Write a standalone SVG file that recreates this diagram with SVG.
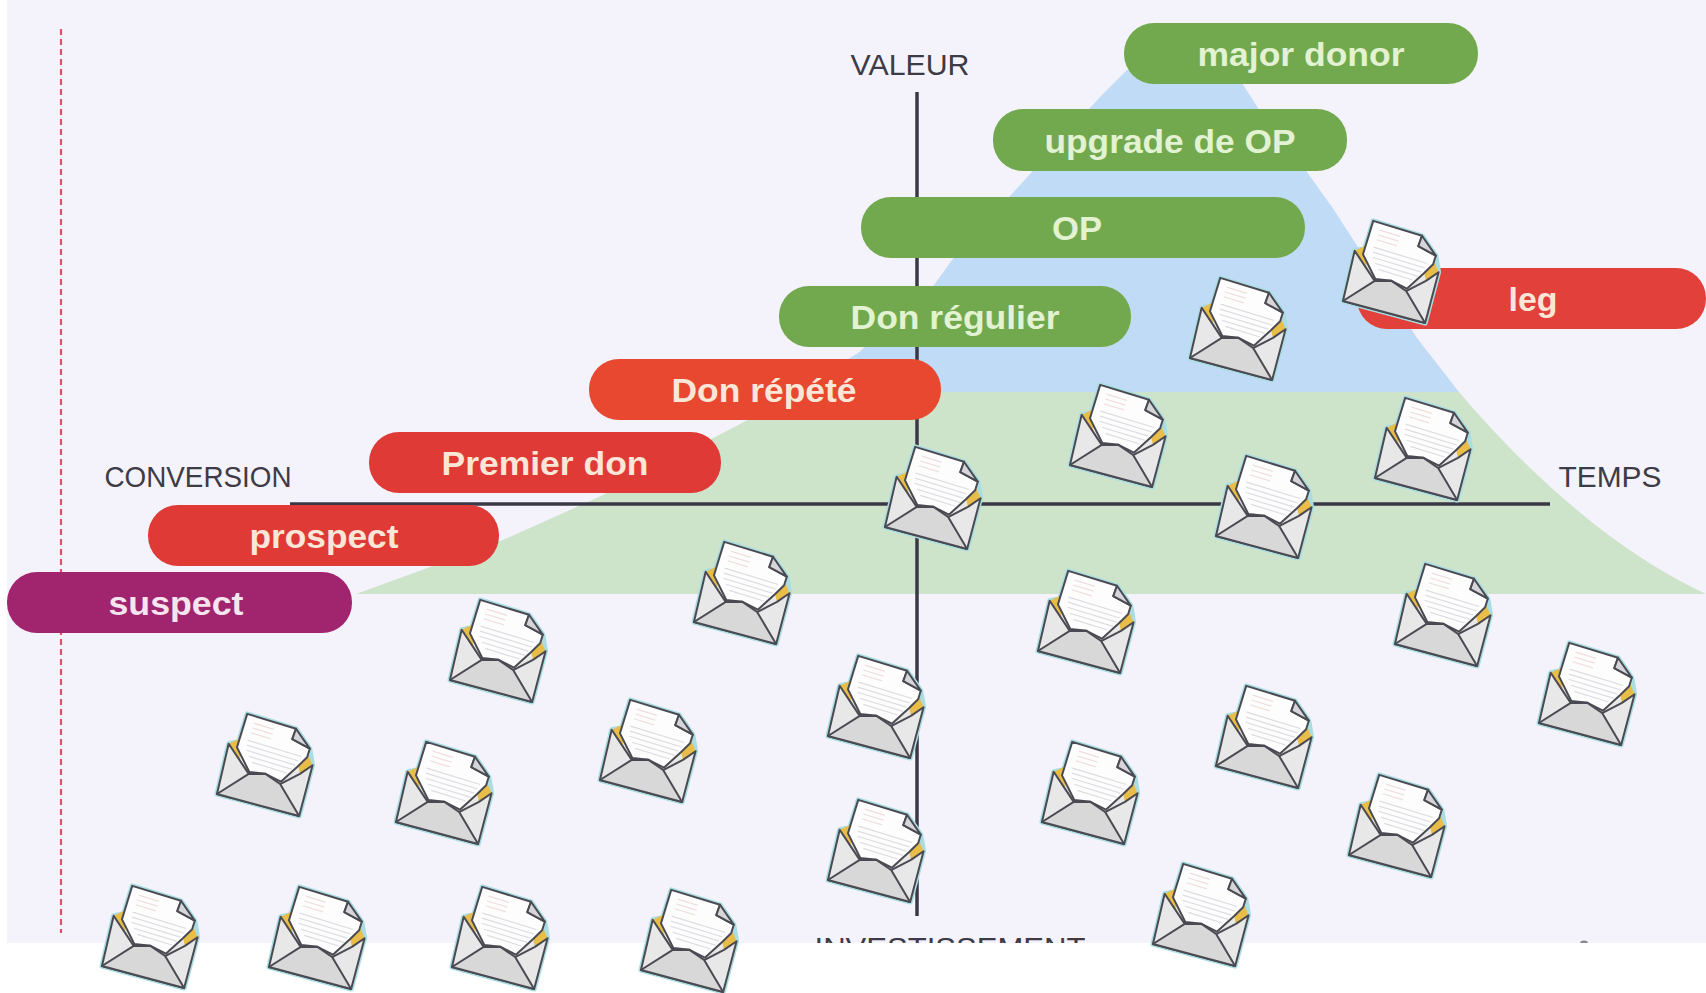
<svg xmlns="http://www.w3.org/2000/svg" width="1706" height="993" viewBox="0 0 1706 993">
<style>
.lab{font-family:"Liberation Sans",Arial,sans-serif;font-size:29px;fill:#3d3b45;text-anchor:middle}
.pt{font-family:"Liberation Sans",Arial,sans-serif;font-size:33px;font-weight:bold;text-anchor:middle}
.g{fill:#72a94e}.gt{fill:#e2f2d2}.rt{fill:#fbe6d8}
.axis{stroke:#3a3846;stroke-width:3.5;fill:none}
.e{stroke:#4a4a52;stroke-width:2;stroke-linejoin:round}
</style>
<defs>
<clipPath id="page"><rect x="0" y="0" width="1706" height="943"/></clipPath>
<g id="env">
<path d="M-31,-44 L20,-44 L39,-29 L46.5,-14 L48.5,38.5 L-36.5,41.5 L-40,-10 L-31,-15Z" fill="#e8e8e8" stroke="#a9dde2" stroke-width="5" stroke-linejoin="round"/>
<path d="M-40,-10 L-30,-19 L-24,3Z" fill="#e8bd48"/>
<path d="M46.5,-14 L38,-24 L33,-9 L37,-2Z" fill="#e8bd48"/>
<path class="e" d="M-40,-10 L-36.5,41.5 L48.5,38.5 L46.5,-14 L37,-2 L21,13.5 L-12,13Z" fill="#e8e8e8"/>
<path class="e" d="M-31,-44 L20,-44 L19.5,-33 L39,-29 L39,-20 L33,-9 L21,11 L4,8 L-12,11 L-31,-9Z" fill="#fdfdfd"/>
<path class="e" d="M20,-44 L39,-29 L19.5,-33Z" fill="#d6d5da"/>
<path d="M-22,-37 H-1 M-22,-32 H-1 M-22,-27 H-1" stroke="#f0dedc" stroke-width="1.2" fill="none"/>
<path d="M-23,-19 H33 M-22,-14 H32 M-21,-9 H30 M-17,-4 H28 M-12,1 H24" stroke="#dcdce2" stroke-width="1.2" fill="none"/>
<path class="e" d="M-36.5,41.5 L-12,13 L4,8 L21,13.5 L48.5,38.5Z" fill="#d8d8d8"/>
</g>
</defs>
<rect id="bg-white" width="1706" height="993" fill="#fff"/>
<g id="background" clip-path="url(#page)">
<rect x="7" y="0" width="1699" height="943" fill="#f4f3fc"/>
<path id="blue-zone" d="M1127,70 L1240,80 L1258,108 L1307,172 L1332,207 L1417,338 L1459,392 L795,392 L858,353 Q905,312 934,285 L952,260 L1100,97Z" fill="#c0dbf5"/>
<path id="green-zone" d="M356,594 L496,543 L599,497 L715,437 L742,423 L795,392 L1459,392 C1510,452 1600,545 1706,594Z" fill="#cde4ca"/>
<text class="lab" x="950" y="958" textLength="271" lengthAdjust="spacingAndGlyphs">INVESTISSEMENT</text>
<ellipse cx="1584" cy="943" rx="4" ry="2.5" fill="#8b8a92"/>
</g>
<line id="dash" x1="61" y1="29" x2="61" y2="933" stroke="#e3506e" stroke-width="2.2" stroke-dasharray="6 4"/>
<g id="connectors">
<line class="axis" x1="917" y1="92" x2="917" y2="916"/>
<line class="axis" x1="290" y1="504" x2="1550" y2="504"/>
</g>
<g id="axis-labels">
<text class="lab" x="910" y="75" textLength="119" lengthAdjust="spacingAndGlyphs">VALEUR</text>
<text class="lab" x="198" y="487" textLength="187" lengthAdjust="spacingAndGlyphs">CONVERSION</text>
<text class="lab" x="1610" y="487" textLength="103" lengthAdjust="spacingAndGlyphs">TEMPS</text>
</g>
<g id="major-donor"><rect class="g" x="1124" y="23" width="354" height="61" rx="30"/><text class="pt gt" x="1301" y="66" textLength="207" lengthAdjust="spacingAndGlyphs">major donor</text></g>
<g id="upgrade"><rect class="g" x="993" y="109" width="354" height="62" rx="30"/><text class="pt gt" x="1170" y="153" textLength="251" lengthAdjust="spacingAndGlyphs">upgrade de OP</text></g>
<g id="op"><rect class="g" x="861" y="197" width="444" height="61" rx="30"/><text class="pt gt" x="1077" y="240" textLength="50" lengthAdjust="spacingAndGlyphs">OP</text></g>
<g id="don-regulier"><rect class="g" x="779" y="286" width="352" height="61" rx="30"/><text class="pt gt" x="955" y="329" textLength="209" lengthAdjust="spacingAndGlyphs">Don régulier</text></g>
<g id="leg"><rect x="1357" y="268" width="349" height="61" rx="30" fill="#e2403a"/><text class="pt rt" x="1533" y="311" textLength="49" lengthAdjust="spacingAndGlyphs">leg</text></g>
<g id="don-repete"><rect x="589" y="359" width="352" height="61" rx="30" fill="#e7482f"/><text class="pt rt" x="764" y="402" textLength="185" lengthAdjust="spacingAndGlyphs">Don répété</text></g>
<g id="premier-don"><rect x="369" y="432" width="352" height="61" rx="30" fill="#e03a37"/><text class="pt rt" x="545" y="475" textLength="207" lengthAdjust="spacingAndGlyphs">Premier don</text></g>
<g id="prospect"><rect x="148" y="505" width="351" height="61" rx="30" fill="#e03a37"/><text class="pt rt" x="324" y="548" textLength="149" lengthAdjust="spacingAndGlyphs">prospect</text></g>
<g id="suspect"><rect x="7" y="572" width="345" height="61" rx="30" fill="#a0246e"/><text class="pt" fill="#f6e4ee" x="176" y="615" textLength="135" lengthAdjust="spacingAndGlyphs">suspect</text></g>
<g id="envelopes">
<use href="#env" transform="translate(149,937) rotate(17)"/>
<use href="#env" transform="translate(316,938) rotate(17)"/>
<use href="#env" transform="translate(499,938) rotate(17)"/>
<use href="#env" transform="translate(688,941) rotate(17)"/>
<use href="#env" transform="translate(264,765) rotate(17)"/>
<use href="#env" transform="translate(443,793) rotate(17)"/>
<use href="#env" transform="translate(647,751) rotate(17)"/>
<use href="#env" transform="translate(497,651) rotate(17)"/>
<use href="#env" transform="translate(741,593) rotate(17)"/>
<use href="#env" transform="translate(875,707) rotate(17)"/>
<use href="#env" transform="translate(875,851) rotate(17)"/>
<use href="#env" transform="translate(932,498) rotate(17)"/>
<use href="#env" transform="translate(1117,436) rotate(17)"/>
<use href="#env" transform="translate(1237,329) rotate(17)"/>
<use href="#env" transform="translate(1390,272) rotate(17)"/>
<use href="#env" transform="translate(1422,449) rotate(17)"/>
<use href="#env" transform="translate(1263,507) rotate(17)"/>
<use href="#env" transform="translate(1085,622) rotate(17)"/>
<use href="#env" transform="translate(1442,615) rotate(17)"/>
<use href="#env" transform="translate(1586,694) rotate(17)"/>
<use href="#env" transform="translate(1263,737) rotate(17)"/>
<use href="#env" transform="translate(1089,793) rotate(17)"/>
<use href="#env" transform="translate(1396,826) rotate(17)"/>
<use href="#env" transform="translate(1200,915) rotate(17)"/>
</g>
</svg>
